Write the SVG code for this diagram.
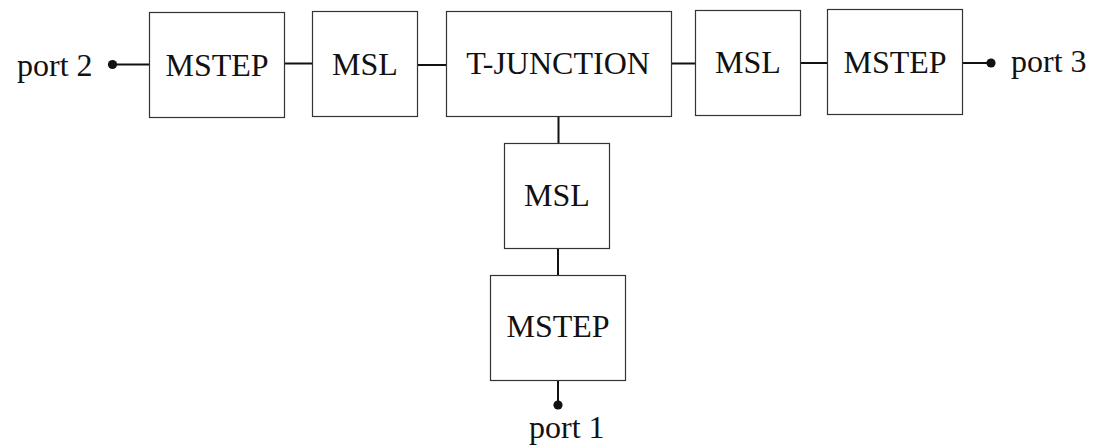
<svg xmlns="http://www.w3.org/2000/svg" width="1110" height="448" viewBox="0 0 1110 448">
<style>
.box{fill:#fff;stroke:#333;stroke-width:1.2}
.lbl{font-family:"Liberation Serif","Times New Roman",serif;font-size:32px;fill:#111;text-anchor:middle}
.port{font-family:"Liberation Serif","Times New Roman",serif;font-size:32px;fill:#111}
.wire{stroke:#111;stroke-width:2;fill:none}
.dot{fill:#111}
</style>
<rect width="1110" height="448" fill="#fff"/>
<g id="connectors">
<line class="wire" x1="113" y1="64.5" x2="149" y2="64.5"/>
<line class="wire" x1="285" y1="63.5" x2="312" y2="63.5"/>
<line class="wire" x1="418" y1="65" x2="446" y2="65"/>
<line class="wire" x1="671" y1="63.5" x2="695" y2="63.5"/>
<line class="wire" x1="801" y1="63" x2="827" y2="63"/>
<line class="wire" x1="963" y1="63" x2="991" y2="63"/>
<line class="wire" x1="558.5" y1="116" x2="558.5" y2="143"/>
<line class="wire" x1="558" y1="248" x2="558" y2="275"/>
<line class="wire" x1="558" y1="380" x2="558" y2="405"/>
<circle class="dot" cx="112.5" cy="64.5" r="4.6"/>
<circle class="dot" cx="991" cy="63" r="4.6"/>
<circle class="dot" cx="558" cy="405" r="4.6"/>
</g>
<g id="port2"><text class="port" x="17" y="76">port 2</text></g>
<g id="port3"><text class="port" x="1011" y="72">port 3</text></g>
<g id="port1"><text class="port" x="529" y="438">port 1</text></g>
<g id="mstep1"><rect class="box" x="149.5" y="12.5" width="135" height="105"/><text class="lbl" x="217" y="75.5">MSTEP</text></g>
<g id="msl1"><rect class="box" x="312.5" y="11.5" width="105" height="105"/><text class="lbl" x="365" y="75">MSL</text></g>
<g id="tjunction"><rect class="box" x="446.5" y="11.5" width="225" height="105"/><text class="lbl" x="558" y="74">T-JUNCTION</text></g>
<g id="msl2"><rect class="box" x="695.5" y="10.5" width="105" height="105"/><text class="lbl" x="748" y="73">MSL</text></g>
<g id="mstep2"><rect class="box" x="827.5" y="9.5" width="135" height="105"/><text class="lbl" x="895" y="73">MSTEP</text></g>
<g id="msl3"><rect class="box" x="504.5" y="143.5" width="105" height="105"/><text class="lbl" x="557" y="206">MSL</text></g>
<g id="mstep3"><rect class="box" x="490.5" y="275.5" width="135" height="105"/><text class="lbl" x="558" y="337">MSTEP</text></g>
</svg>
